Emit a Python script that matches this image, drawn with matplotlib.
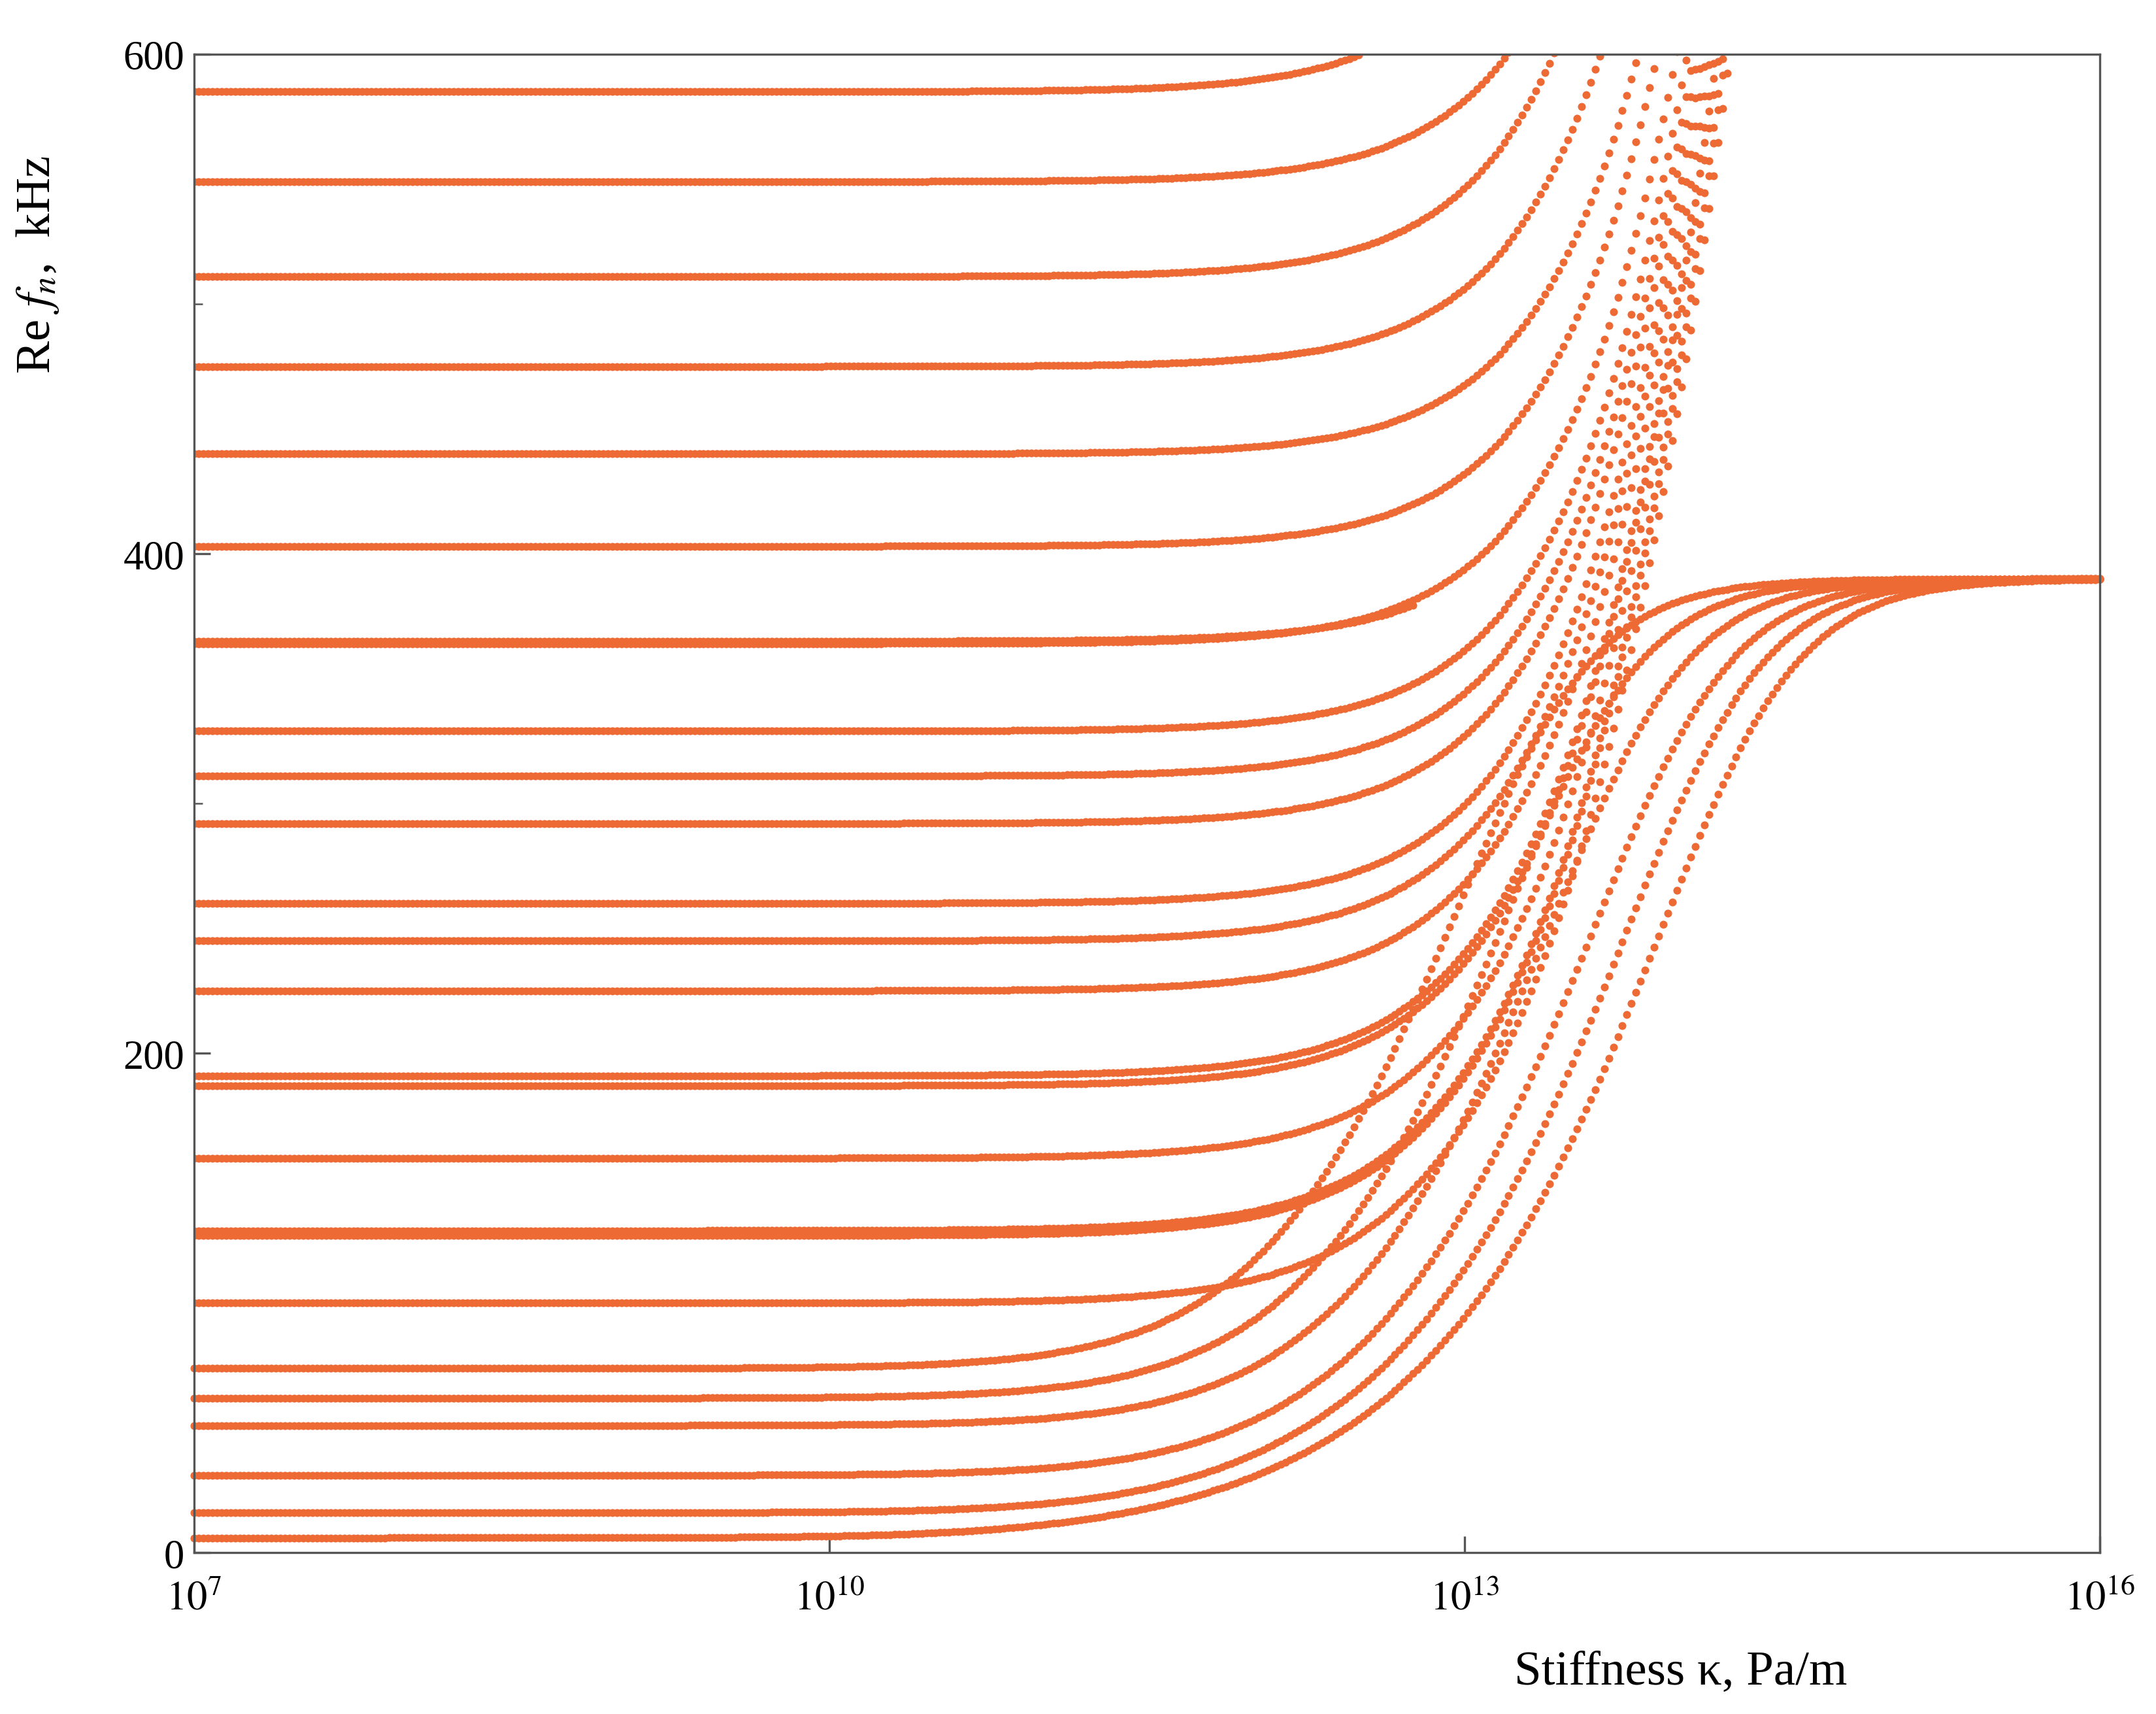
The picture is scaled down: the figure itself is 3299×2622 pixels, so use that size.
import numpy as np
import matplotlib.pyplot as plt

plt.rcParams['font.family'] = ['Liberation Serif', 'DejaVu Serif']
plt.rcParams['mathtext.fontset'] = 'stix'

col = '#ee6a35'
plateau = 390.0  # kHz

# modes that rise without bound: low-stiffness freq (kHz), log10 of kappa where they hit 600 kHz, log10 end kappa
rise_f0 = [585, 549, 511, 475, 440, 403, 365, 364, 329, 311, 292, 260, 245, 225, 191, 187, 158, 129, 127, 100]
rise_k600 = [12.51, 13.20, 13.42, 13.64, 13.82, 13.91, 14.08, 14.00, 14.05, 14.08, 14.10, 14.12,
             14.14, 14.16, 14.18, 14.19, 14.20, 14.22, 14.23, 14.25]
rise_end = [12.51, 16, 16, 16, 16, 16, 12.76, 16, 16, 16, 16, 16, 16, 16, 16, 16, 16, 16, 16, 16]

# modes that saturate at the 390 kHz plateau: low-stiffness freq, freq the free branch would reach at 1e13 Pa/m
sat_f0 = [74, 62, 51, 31, 16, 6]
sat_g13 = [300, 230, 180, 140, 115, 95]

fig = plt.figure(figsize=(10.997, 8.743), dpi=300)
ax = fig.add_axes([0.09, 0.094, 0.884, 0.874])

lk = np.linspace(7, 16, 420)
k = 10 ** lk
q = 3
for f0, k6, ke in zip(rise_f0, rise_k600, rise_end):
    b2 = (600.0 ** 2 - f0 ** 2) / 10 ** (k6 - 13)
    m = lk <= ke + 1e-9
    f = np.sqrt(f0 ** 2 + b2 * k[m] / 1e13)
    ax.plot(k[m], f, 'o', color=col, ms=2.9, mew=0)
for f0, g13 in zip(sat_f0, sat_g13):
    g = np.sqrt(f0 ** 2 + (g13 ** 2 - f0 ** 2) * k / 1e13)
    f = g / (1 + (g / plateau) ** q) ** (1 / q)
    ax.plot(k, f, 'o', color=col, ms=2.9, mew=0, clip_on=False)

ax.set_xscale('log')
ax.set_xlim(1e7, 1e16)
ax.set_ylim(0, 600)
ax.set_xticks([1e7, 1e10, 1e13, 1e16])
ax.set_xticklabels(['$10^{7}$', '$10^{10}$', '$10^{13}$', '$10^{16}$'])
ax.set_yticks([0, 200, 400, 600])
ax.set_yticks([100, 300, 500], minor=True)
ax.tick_params(which='both', direction='in', labelsize=15, color='#555555')
ax.tick_params(which='major', length=6)
ax.tick_params(which='minor', length=3)
ax.tick_params(axis='x', pad=10)
for s in ax.spines.values():
    s.set_color('#555555')
    s.set_linewidth(0.8)
ax.set_ylabel('Re $f_n$,  kHz', fontsize=18)
ax.yaxis.set_label_coords(-0.07, 0.86)
ax.set_xlabel('Stiffness κ, Pa/m', fontsize=18)
ax.xaxis.set_label_coords(0.78, -0.065)

fig.savefig('out.png', dpi=300)
